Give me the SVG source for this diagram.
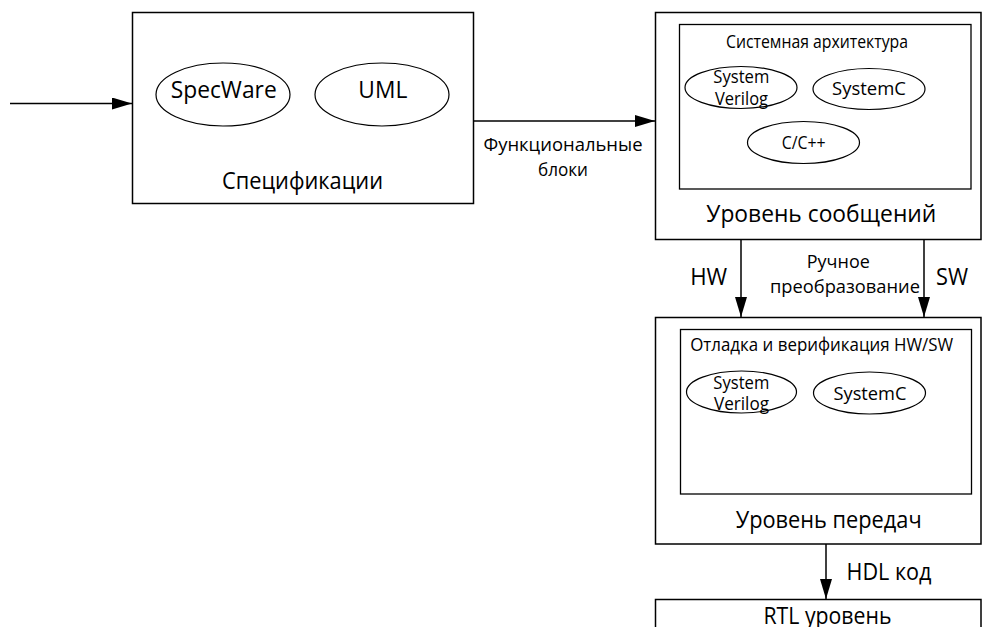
<svg xmlns="http://www.w3.org/2000/svg" width="984" height="627" viewBox="0 0 984 627">
<style>
.box{fill:#fff;stroke:#000;stroke-width:1.5}
.in{fill:none;stroke:#000;stroke-width:1.3}
.el{fill:#fff;stroke:#000;stroke-width:1.2}
.ln{fill:none;stroke:#000;stroke-width:1.5}
text{font-family:"Open Sans","Noto Sans","DejaVu Sans",sans-serif;fill:#000;text-anchor:middle}
.b{font-size:23px}
.s{font-size:18px}
</style>
<defs>
<marker id="ah" markerWidth="20" markerHeight="12" refX="20" refY="6" orient="auto" markerUnits="userSpaceOnUse">
<path d="M0,0 L20,6 L0,12 Z" fill="#000"/>
</marker>
</defs>
<rect width="984" height="627" fill="#fff"/>
<g id="spec">
<rect class="box" x="132.5" y="12.5" width="341" height="191"/>
<ellipse class="el" cx="223" cy="94.5" rx="67" ry="31.5"/>
<text class="b" x="223.7" y="98" textLength="106" lengthAdjust="spacingAndGlyphs">SpecWare</text>
<ellipse class="el" cx="382" cy="94.5" rx="67" ry="31.5"/>
<text class="b" x="382.8" y="98" textLength="49" lengthAdjust="spacingAndGlyphs">UML</text>
<text class="b" x="302.5" y="189" textLength="161" lengthAdjust="spacingAndGlyphs">Спецификации</text>
</g>
<g id="msg">
<rect class="box" x="655.5" y="12.5" width="325.5" height="227"/>
<rect class="in" x="679.5" y="24.5" width="291.5" height="164.5"/>
<text class="s" x="817" y="47.5" textLength="182" lengthAdjust="spacingAndGlyphs">Системная архитектура</text>
<ellipse class="el" cx="741" cy="87.5" rx="56" ry="21"/>
<text class="s" x="741.3" y="83" textLength="56" lengthAdjust="spacingAndGlyphs">System</text>
<text class="s" x="741.5" y="105" textLength="53" lengthAdjust="spacingAndGlyphs">Verilog</text>
<ellipse class="el" cx="869" cy="89" rx="56" ry="20.5"/>
<text class="s" x="869" y="95" textLength="74" lengthAdjust="spacingAndGlyphs">SystemC</text>
<ellipse class="el" cx="803.5" cy="142.5" rx="56" ry="21"/>
<text class="s" x="803.7" y="149" textLength="44" lengthAdjust="spacingAndGlyphs">C/C++</text>
<text class="b" x="821.3" y="222" textLength="230" lengthAdjust="spacingAndGlyphs">Уровень сообщений</text>
</g>
<g id="trans">
<rect class="box" x="655.5" y="317.5" width="325.5" height="226.5"/>
<rect class="in" x="680.5" y="329.5" width="291" height="164.5"/>
<text class="s" x="821.7" y="350.5" textLength="263" lengthAdjust="spacingAndGlyphs">Отладка и верификация HW/SW</text>
<ellipse class="el" cx="741.5" cy="392" rx="55" ry="21"/>
<text class="s" x="741.3" y="388.5" textLength="56" lengthAdjust="spacingAndGlyphs">System</text>
<text class="s" x="741.5" y="410" textLength="55" lengthAdjust="spacingAndGlyphs">Verilog</text>
<ellipse class="el" cx="869.5" cy="393" rx="56" ry="21"/>
<text class="s" x="870" y="399.5" textLength="73" lengthAdjust="spacingAndGlyphs">SystemC</text>
<text class="b" x="828.7" y="528" textLength="186" lengthAdjust="spacingAndGlyphs">Уровень передач</text>
</g>
<g id="rtl">
<rect class="box" x="655.5" y="599.5" width="325.5" height="40"/>
<text class="b" x="827.5" y="624" textLength="128" lengthAdjust="spacingAndGlyphs">RTL уровень</text>
</g>
<g id="connectors">
<line class="ln" x1="10" y1="103.5" x2="132" y2="103.5" marker-end="url(#ah)"/>
<line class="ln" x1="473.5" y1="121" x2="655" y2="121" marker-end="url(#ah)"/>
<line class="ln" x1="741" y1="239.5" x2="741" y2="317" marker-end="url(#ah)"/>
<line class="ln" x1="924" y1="239.5" x2="924" y2="317" marker-end="url(#ah)"/>
<line class="ln" x1="826" y1="544" x2="826" y2="599" marker-end="url(#ah)"/>
<text class="s" x="563" y="151" textLength="159" lengthAdjust="spacingAndGlyphs">Функциональные</text>
<text class="s" x="563" y="176" textLength="50" lengthAdjust="spacingAndGlyphs">блоки</text>
<text class="b" x="708.7" y="285" textLength="37" lengthAdjust="spacingAndGlyphs">HW</text>
<text class="b" x="952" y="285" textLength="32" lengthAdjust="spacingAndGlyphs">SW</text>
<text class="s" x="838.3" y="268" textLength="63" lengthAdjust="spacingAndGlyphs">Ручное</text>
<text class="s" x="845" y="293" textLength="150" lengthAdjust="spacingAndGlyphs">преобразование</text>
<text class="b" x="889" y="580" textLength="85" lengthAdjust="spacingAndGlyphs">HDL код</text>
</g>
</svg>
